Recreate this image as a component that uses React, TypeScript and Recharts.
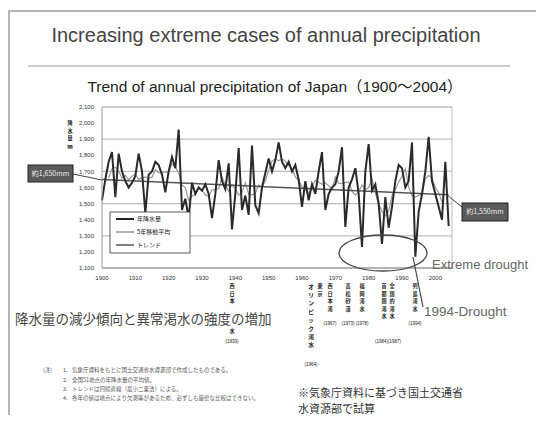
import { LineChart, Line, XAxis, YAxis, CartesianGrid, ReferenceLine } from "recharts";

const FIRST_YEAR = 1900;

// annual precipitation (mm), 1900-2004
const annualPrecip = [
  1520, 1650, 1760, 1820, 1540, 1810, 1700, 1640, 1600, 1630,
  1670, 1810, 1700, 1440, 1680, 1700, 1760, 1740, 1680, 1570,
  1700, 1790, 1720, 1960, 1460, 1530, 1410, 1630, 1560, 1600,
  1580, 1620, 1560, 1410, 1560, 1770, 1640, 1590, 1750, 1340,
  1560, 1845, 1460, 1550, 1430, 1860, 1490, 1440, 1600, 1690,
  1780, 1700, 1770, 1880, 1760, 1720, 1760, 1700, 1740, 1650,
  1480, 1640, 1520, 1620, 1560, 1700, 1820, 1460, 1560, 1600,
  1620, 1700, 1850, 1355, 1600, 1650, 1720, 1560, 1230, 1700,
  1870, 1580, 1620, 1500, 1250, 1540, 1350, 1480, 1640, 1740,
  1720, 1600, 1640, 1880, 1170, 1450, 1560, 1700, 1915, 1640,
  1560, 1480, 1400, 1760, 1360,
];

// 5-year moving average (centered)
const movingAvg5 = [
  null, null, 1658, 1716, 1726, 1702, 1658, 1676, 1648, 1670,
  1682, 1650, 1660, 1666, 1656, 1664, 1712, 1690, 1690, 1696,
  1692, 1748, 1726, 1692, 1616, 1598, 1518, 1546, 1556, 1598,
  1584, 1554, 1546, 1584, 1588, 1594, 1662, 1618, 1576, 1617,
  1591, 1551, 1569, 1629, 1558, 1554, 1564, 1616, 1600, 1642,
  1708, 1764, 1778, 1766, 1778, 1764, 1736, 1714, 1666, 1642,
  1606, 1582, 1564, 1608, 1644, 1632, 1620, 1628, 1612, 1588,
  1666, 1625, 1625, 1631, 1635, 1577, 1552, 1572, 1616, 1588,
  1600, 1654, 1564, 1498, 1452, 1424, 1452, 1550, 1586, 1636,
  1668, 1716, 1602, 1548, 1540, 1552, 1559, 1653, 1675, 1659,
  1599, 1568, 1512, null, null,
];

// linear trend, end points only
const trendStart = 1650;
const trendEnd = 1555;

const seriesNames = ["年降水量", "5年移動平均", "トレンド"];
const xTicks = [1900, 1910, 1920, 1930, 1940, 1950, 1960, 1970, 1980, 1990, 2000];
const yTicks = [1100, 1200, 1300, 1400, 1500, 1600, 1700, 1800, 1900, 2000, 2100];

const data = annualPrecip.map((v, i) => ({
  year: FIRST_YEAR + i,
  annual: v,
  avg: movingAvg5[i],
  trend: i === 0 ? trendStart : i === annualPrecip.length - 1 ? trendEnd : null,
}));

const SANS = "'Liberation Sans', Arial, 'Noto Sans CJK JP', sans-serif";
const JP = "'Noto Sans CJK JP', sans-serif";

// vertical (tategaki) label, one glyph per line
function VText({ x, y, text, step = 7.5 }: { x: number; y: number; text: string; step?: number }) {
  const size = step / 1.46;
  return (
    <g>
      {Array.from(text).map((c, i) => (
        <text key={i} x={x} y={y + i * step} fontSize={size} textAnchor="middle" dominantBaseline="middle" fill="#222" fontWeight="bold" fontFamily={JP}>
          {c}
        </text>
      ))}
    </g>
  );
}

function Small({ x, y, text }: { x: number; y: number; text: string }) {
  return (
    <text x={x} y={y} fontSize={4.5} textAnchor="middle" dominantBaseline="middle" fill="#222" fontFamily={SANS}>
      {text}
    </text>
  );
}

function Overlay() {
  const legendColors = ["#222", "#999", "#555"];
  return (
    <svg width={544} height={423} style={{ position: "absolute", left: 0, top: 0, pointerEvents: "none" }}>
      <rect x={9} y={11} width={580} height={440} fill="none" stroke="#b4b4b4" strokeWidth={2} />
      <text x={266} y={37} fontSize={20} textAnchor="middle" dominantBaseline="middle" fill="#444" fontFamily={SANS}>
        Increasing extreme cases of annual precipitation
      </text>
      <line x1={28} x2={510} y1={66} y2={66} stroke="#999" strokeWidth={1} />
      <text x={275} y={88} fontSize={15.5} textAnchor="middle" dominantBaseline="middle" fill="#222" fontFamily={SANS}>
        Trend of annual precipitation of Japan（1900～2004）
      </text>

      {/* y-axis title */}
      <VText x={70} y={124} text="降水量㎜" step={7.5} />

      {/* legend */}
      <rect x={110} y={212} width={80} height={41} fill="#fff" stroke="#333" strokeWidth={0.8} />
      {seriesNames.map((n, i) => (
        <g key={n}>
          <line x1={116} x2={134} y1={219 + i * 13} y2={219 + i * 13} stroke={legendColors[i]} strokeWidth={i === 0 ? 2 : 1.5} />
          <text x={137} y={219 + i * 13} fontSize={6} dominantBaseline="middle" fill="#222" fontFamily={JP}>{n}</text>
        </g>
      ))}

      {/* trend value boxes */}
      <line x1={73} y1={174} x2={102} y2={180} stroke="#444" strokeWidth={1} />
      <rect x={28} y={165} width={45} height={17} fill="#5a5a5a" stroke="#222" strokeWidth={1} />
      <text x={50.5} y={174} fontSize={7} textAnchor="middle" dominantBaseline="middle" fill="#eee" fontFamily={JP}>約1,650mm</text>
      <line x1={447} y1={195} x2={462} y2={207} stroke="#444" strokeWidth={1} />
      <rect x={462} y={203} width={46} height={18} fill="#5a5a5a" stroke="#222" strokeWidth={1} />
      <text x={485} y={212.5} fontSize={7} textAnchor="middle" dominantBaseline="middle" fill="#eee" fontFamily={JP}>約1,550mm</text>

      {/* drought callouts */}
      <ellipse cx={383} cy={253} rx={44} ry={18} fill="none" stroke="#444" strokeWidth={1.3} />
      <text x={432} y={266} fontSize={13} dominantBaseline="middle" fill="#666" fontFamily={SANS}>Extreme drought</text>
      <line x1={413} y1={257} x2={423} y2={307} stroke="#444" strokeWidth={1.2} />
      <text x={424} y={312} fontSize={13.5} dominantBaseline="middle" fill="#666" fontFamily={SANS}>1994-Drought</text>

      {/* drought events under the axis */}
      <VText x={232} y={287} text="西日本" />
      <VText x={232} y={332} text="水" />
      <Small x={232} y={342} text="(1939)" />
      <VText x={320} y={287} text="東京" step={8} />
      <VText x={311} y={287} text="オリンピック渇水" step={8.4} />
      <Small x={311} y={365} text="(1964)" />
      <VText x={330} y={287} text="西日本渇" />
      <VText x={348} y={287} text="高松砂漠" />
      <VText x={362} y={287} text="福岡渇水" />
      <Small x={330} y={324} text="(1967)" />
      <Small x={348} y={324} text="(1973)" />
      <Small x={362} y={324} text="(1978)" />
      <VText x={392} y={287} text="全国的渇水" />
      <VText x={384} y={287} text="首都圏渇水" />
      <Small x={388} y={342} text="(1984)(1987)" />
      <VText x={415} y={287} text="列島渇水" />
      <Small x={415} y={324} text="(1994)" />

      <text x={15} y={320} fontSize={13.5} dominantBaseline="middle" fill="#444" fontFamily={JP}>
        降水量の減少傾向と異常渇水の強度の増加
      </text>

      {/* notes */}
      <g fontSize={5.5} fill="#555" fontFamily={JP} dominantBaseline="middle">
        <text x={43} y={370}>(注)</text>
        <text x={63} y={370}>1.</text>
        <text x={72} y={370}>気象庁資料をもとに国土交通省水資源部で作成したものである。</text>
        <text x={63} y={380}>2.</text>
        <text x={72} y={380}>全国51地点の年降水量の平均値。</text>
        <text x={63} y={389}>3.</text>
        <text x={72} y={389}>トレンドは回帰直線（最小二乗法）による。</text>
        <text x={63} y={398}>4.</text>
        <text x={72} y={398}>各年の値は地点により欠測等があるため、必ずしも厳密な比較はできない。</text>
      </g>
      <text x={298} y={394} fontSize={11} dominantBaseline="middle" fill="#333" fontFamily={JP}>※気象庁資料に基づき国土交通省</text>
      <text x={298} y={410} fontSize={11} dominantBaseline="middle" fill="#333" fontFamily={JP}>水資源部で試算</text>
    </svg>
  );
}

export default function App() {
  return (
    <div style={{ position: "relative", width: 544, height: 423, margin: -8, background: "#fff", fontFamily: SANS }}>
      <LineChart width={544} height={423} data={data} margin={{ top: 107, right: 92, bottom: 135, left: 72 }}>
        <CartesianGrid vertical={false} stroke="#bdbdbd" strokeWidth={1.3} />
        <XAxis
          dataKey="year"
          type="number"
          domain={[1900, 2005]}
          ticks={xTicks}
          height={20}
          tickLine={false}
          axisLine={{ stroke: "#999" }}
          tick={{ fontSize: 6, fill: "#333" }}
        />
        <YAxis
          domain={[1100, 2100]}
          ticks={yTicks}
          width={30}
          tickLine={false}
          axisLine={{ stroke: "#999" }}
          tick={{ fontSize: 6, fill: "#333" }}
          tickFormatter={(v) => v.toLocaleString("en-US")}
        />
        <ReferenceLine x={2005} stroke="#bdbdbd" />
        <Line dataKey="avg" stroke="#999" strokeWidth={1.2} dot={false} isAnimationActive={false} />
        <Line dataKey="trend" stroke="#555" strokeWidth={1.5} dot={false} connectNulls isAnimationActive={false} />
        <Line dataKey="annual" stroke="#2a2a2a" strokeWidth={2} dot={false} strokeLinejoin="miter" isAnimationActive={false} />
      </LineChart>
      <Overlay />
    </div>
  );
}
